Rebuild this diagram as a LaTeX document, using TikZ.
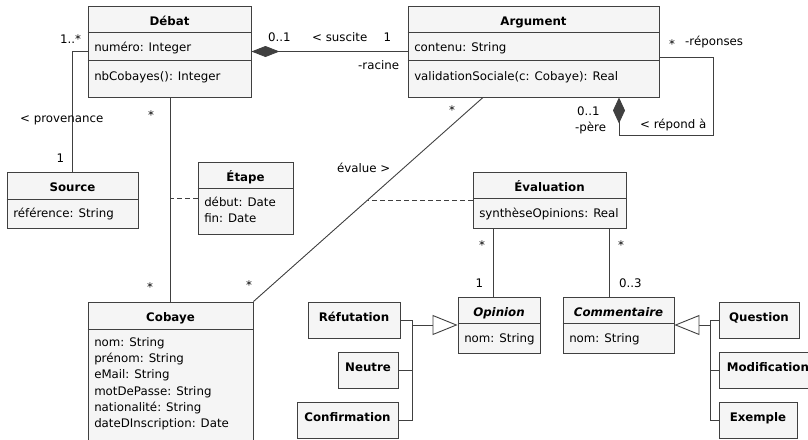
\documentclass[tikz,border=0pt]{standalone}
\usepackage{fontspec}
\setmainfont{DejaVu Sans}
\usetikzlibrary{arrows.meta,calc,fit}
\definecolor{boxfill}{HTML}{F5F5F5}
\definecolor{ink}{HTML}{404040}
\newcommand\umlfont{\fontsize{11.8}{16.2}\selectfont}
% horizontal compartment line inside a class box, #2 below its top edge
\newcommand\compline[2]{\draw[sepline] ($(#1.north west)+(0,#2)$) -- ($(#1.north east)+(0,#2)$);}
\tikzset{
  every node/.style={font=\umlfont, text=black},
  cls/.style={draw=ink, fill=boxfill, line width=0.9pt, inner sep=0pt},
  sepline/.style={draw=ink, line width=0.9pt},
  conn/.style={draw=ink, line width=0.9pt},
  assoc/.style={conn, dash pattern=on 5pt off 3pt},
  ttl/.style={anchor=base, inner sep=0pt, font=\umlfont\bfseries},
  attr/.style={anchor=base west, inner sep=0pt},
  lbl/.style={anchor=base west, inner sep=0pt},
  umlcomp/.tip={Diamond[length=28pt,width=11pt]},
  umlcompv/.tip={Diamond[length=26pt,width=12pt]},
  umlgen/.tip={Triangle[open,length=25pt,width=20pt,fill=white]}
}
\begin{document}
\begin{tikzpicture}[x=1pt,y=-1pt]
\useasboundingbox (0,0) rectangle (808,439);

% ---- class boxes ----
\node[cls, fit={(88,6) (251,97)}] (deb) {};
\node[cls, fit={(408,6) (659,97)}] (arg) {};
\node[cls, fit={(7,172) (138,228)}] (src) {};
\node[cls, fit={(198,162) (293,234)}] (etp) {};
\node[cls, fit={(473,172) (626,228)}] (evl) {};
\node[cls, fit={(88,302) (253,452)}] (cob) {};
\node[cls, fit={(458,297) (540,353)}] (opn) {};
\node[cls, fit={(563,297) (674,353)}] (com) {};
\node[cls, fit={(308,302) (400,338)}] (ref) {};
\node[cls, fit={(338,352) (398,388)}] (neu) {};
\node[cls, fit={(297,402) (398,438)}] (cnf) {};
\node[cls, fit={(719,302) (799,338)}] (que) {};
\node[cls, fit={(719,352) (826,388)}] (mdf) {};
\node[cls, fit={(719,402) (797,438)}] (exm) {};

% ---- compartments ----
\compline{deb}{27}\compline{deb}{55}
\compline{arg}{27}\compline{arg}{55}
\compline{src}{28}
\compline{etp}{27}
\compline{evl}{27}
\compline{cob}{28}
\compline{opn}{27}
\compline{com}{27}

% ---- class names ----
\node[ttl] (debT) at ($(deb.north)+(0,19.7)$) {Débat};
\node[ttl] (argT) at ($(arg.north)+(0,19.7)$) {Argument};
\node[ttl] (srcT) at ($(src.north)+(0,19.5)$) {Source};
\node[ttl] (etpT) at ($(etp.north)+(0,19.5)$) {Étape};
\node[ttl] (evlT) at ($(evl.north)+(0,19.5)$) {Évaluation};
\node[ttl] (cobT) at ($(cob.north)+(0,19.5)$) {Cobaye};
\node[ttl, font=\umlfont\bfseries\itshape] (opnT) at ($(opn.north)+(0,19.5)$) {Opinion};
\node[ttl, font=\umlfont\bfseries\itshape] (comT) at ($(com.north)+(0,19.5)$) {Commentaire};
\node[ttl] (refT) at ($(ref.north)+(0,19.5)$) {Réfutation};
\node[ttl] (neuT) at ($(neu.north)+(0,19.5)$) {Neutre};
\node[ttl] (cnfT) at ($(cnf.north)+(0,19.5)$) {Confirmation};
\node[ttl] (queT) at ($(que.north)+(0,19.5)$) {Question};
\node[ttl, anchor=base west] (mdfT) at ($(mdf.north west)+(8,19.5)$) {Modification};
\node[ttl] (exmT) at ($(exm.north)+(0,19.5)$) {Exemple};

% ---- attributes and operations ----
\node[attr] (debA) at ($(deb.north west)+(6.5,45.7)$) {numéro: Integer};
\node[attr] (debM) at ($(deb.north west)+(6.5,74.6)$) {nbCobayes(): Integer};
\node[attr] (argA) at ($(arg.north west)+(6.5,45.7)$) {contenu: String};
\node[attr] (argM) at ($(arg.north west)+(6.5,74.6)$) {validationSociale(c: Cobaye): Real};
\node[attr] (srcA) at ($(src.north west)+(6.5,46)$) {référence: String};
\node[attr] (etpA1) at ($(etp.north west)+(6.5,45)$) {début: Date};
\node[attr] (etpA2) at ($(etp.north west)+(6.5,61.2)$) {fin: Date};
\node[attr] (evlA) at ($(evl.north west)+(6.5,46)$) {synthèseOpinions: Real};
\node[attr] (opnA) at ($(opn.north west)+(6.5,46)$) {nom: String};
\node[attr] (comA) at ($(com.north west)+(6.5,46)$) {nom: String};
\foreach \t [count=\i] in {nom: String, prénom: String, eMail: String,
    motDePasse: String, nationalité: String, dateDInscription: Date}
  \node[attr] (cobA\i) at ($(cob.north west)+(6.5,{45+16.2*(\i-1)})$) {\t};

% ---- associations ----
\draw[conn, umlcomp-] (deb.east) -- (arg.west);
\coordinate (loopc) at (713,135);
\draw[conn, -umlcompv] ([yshift=-5.5pt]arg.east) -| (loopc) -| ([xshift=85.5pt]arg.south);
\draw[conn] (deb.west) -| (src.north);
\draw[conn] (deb.south -| cob.north) -- (cob.north);
\coordinate (argE) at ([xshift=-50.5pt]arg.south);
\draw[conn] (argE) -- (cob.north east);
\coordinate (evX) at ($(argE)!0.5024!(cob.north east)$);
\draw[assoc] (etp.west) -- (etp.west -| cob.north);
\draw[assoc] (evl.west) -- (evl.west -| evX);
\coordinate (opnTop) at ([xshift=-6pt]opn.north);
\draw[conn] (opnTop |- evl.south) -- (opnTop);
\coordinate (comTop) at ([xshift=-9.5pt]com.north);
\draw[conn] (comTop |- evl.south) -- (comTop);

% ---- generalisations ----
\coordinate (busO) at ([xshift=-45pt]opn.west);
\draw[conn, -umlgen] (busO) -- (opn.west);
\draw[conn] (ref.east) -| (busO);
\draw[conn] (neu.east) -| (busO);
\draw[conn] (cnf.east) -| (busO);
\coordinate (busC) at ([xshift=36pt]com.east);
\draw[conn, -umlgen] (busC) -- (com.east);
\draw[conn] (que.west) -| (busC);
\draw[conn] (mdf.west) -| (busC);
\draw[conn] (exm.west) -| (busC);

% ---- association labels ----
\node[lbl] (mSrc1) at (60,43) {1..*};
\node[lbl] (nSrc) at (20,122) {< provenance};
\node[lbl] (mSrc2) at (56.5,162) {1};
\node[lbl] (mCob1) at (148,119.5) {*};
\node[lbl] (mCob2) at (147,291.5) {*};
\node[lbl] (mSus1) at (268,41.5) {0..1};
\node[lbl] (nSus) at (312,41.5) {< suscite};
\node[lbl] (mSus2) at (383.5,41.5) {1};
\node[lbl] (rSus) at (358,69.5) {-racine};
\node[lbl] (mEva1) at (449,114.5) {*};
\node[lbl] (nEva) at (337,172.5) {évalue >};
\node[lbl] (mEva2) at (246,289.5) {*};
\node[lbl] (mRep1) at (669,48.5) {*};
\node[lbl] (rRep1) at (685,45) {-réponses};
\node[lbl] (mRep2) at (577,115) {0..1};
\node[lbl] (rRep2) at (575,131) {-père};
\node[lbl] (nRep) at (640,128) {< répond à};
\node[lbl] (mOpn1) at (479,249.5) {*};
\node[lbl] (mOpn2) at (475.5,287) {1};
\node[lbl] (mCom1) at (618,249.5) {*};
\node[lbl] (mCom2) at (619,287) {0..3};
\end{tikzpicture}
\end{document}
